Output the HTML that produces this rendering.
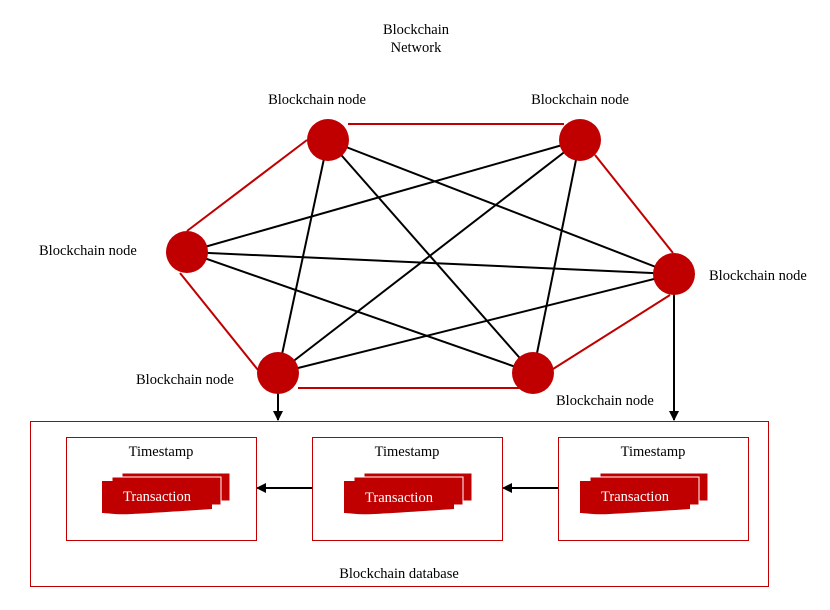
<!DOCTYPE html>
<html><head><style>
body{margin:0;background:#fff}
svg{display:block}
text{font-family:"Liberation Serif",serif;font-size:14.5px;fill:#000}
</style></head><body>
<svg width="830" height="610" viewBox="0 0 830 610" xmlns="http://www.w3.org/2000/svg">
<defs>
<marker id="ar" markerWidth="10" markerHeight="10" refX="9" refY="5" orient="auto" markerUnits="userSpaceOnUse"><path d="M0,0 L10,5 L0,10 z" fill="#000"/></marker>
<g id="tx">
<path d="M20,-8 H128 V20 H20 Z" fill="#c00000" stroke="#fff" stroke-width="1"/>
<path d="M10,-4 H119 V24 H10 Z" fill="#c00000" stroke="#fff" stroke-width="1"/>
<path d="M0,0 H110 V28 C80,30 50,32 30,33 C15,34 5,32 0,32 Z" fill="#c00000"/>
</g>
</defs>
<text x="416" y="34" text-anchor="middle">Blockchain</text>
<text x="416" y="52" text-anchor="middle">Network</text>
<g stroke="#c00000" stroke-width="2" fill="none">
<line x1="348" y1="124" x2="564" y2="124"/>
<line x1="187" y1="231" x2="307" y2="140"/>
<line x1="595" y1="155" x2="673" y2="253"/>
<line x1="180" y1="273" x2="258" y2="370"/>
<line x1="298" y1="388" x2="520" y2="388"/>
<line x1="553" y1="369" x2="670" y2="295"/>
</g>
<g stroke="#000" stroke-width="2">
<line x1="328" y1="140" x2="278" y2="373"/>
<line x1="328" y1="140" x2="533" y2="373"/>
<line x1="328" y1="140" x2="674" y2="274"/>
<line x1="580" y1="140" x2="187" y2="252"/>
<line x1="580" y1="140" x2="278" y2="373"/>
<line x1="580" y1="140" x2="533" y2="373"/>
<line x1="187" y1="252" x2="674" y2="274"/>
<line x1="187" y1="252" x2="533" y2="373"/>
<line x1="278" y1="373" x2="674" y2="274"/>
<line x1="278" y1="393" x2="278" y2="420" marker-end="url(#ar)"/>
<line x1="674" y1="294" x2="674" y2="420" marker-end="url(#ar)"/>
<line x1="312" y1="488" x2="257" y2="488" marker-end="url(#ar)"/>
<line x1="558" y1="488" x2="503" y2="488" marker-end="url(#ar)"/>
</g>
<g fill="#c00000">
<circle cx="328" cy="140" r="21"/>
<circle cx="580" cy="140" r="21"/>
<circle cx="187" cy="252" r="21"/>
<circle cx="674" cy="274" r="21"/>
<circle cx="278" cy="373" r="21"/>
<circle cx="533" cy="373" r="21"/>
</g>
<text x="317" y="104" text-anchor="middle">Blockchain node</text>
<text x="580" y="104" text-anchor="middle">Blockchain node</text>
<text x="39" y="255">Blockchain node</text>
<text x="709" y="280">Blockchain node</text>
<text x="136" y="384">Blockchain node</text>
<text x="556" y="405">Blockchain node</text>
<rect x="30.5" y="421.5" width="738" height="165" fill="none" stroke="#c00000" stroke-width="1"/>
<g fill="none" stroke="#c00000" stroke-width="1">
<rect x="66.5" y="437.5" width="190" height="103"/>
<rect x="312.5" y="437.5" width="190" height="103"/>
<rect x="558.5" y="437.5" width="190" height="103"/>
</g>
<text x="161" y="456" text-anchor="middle">Timestamp</text>
<text x="407" y="456" text-anchor="middle">Timestamp</text>
<text x="653" y="456" text-anchor="middle">Timestamp</text>
<use href="#tx" x="102" y="481"/>
<use href="#tx" x="344" y="481"/>
<use href="#tx" x="580" y="481"/>
<text x="157" y="501" text-anchor="middle" style="fill:#fff">Transaction</text>
<text x="399" y="502" text-anchor="middle" style="fill:#fff">Transaction</text>
<text x="635" y="501" text-anchor="middle" style="fill:#fff">Transaction</text>
<text x="399" y="578" text-anchor="middle">Blockchain database</text>
</svg>
</body></html>
